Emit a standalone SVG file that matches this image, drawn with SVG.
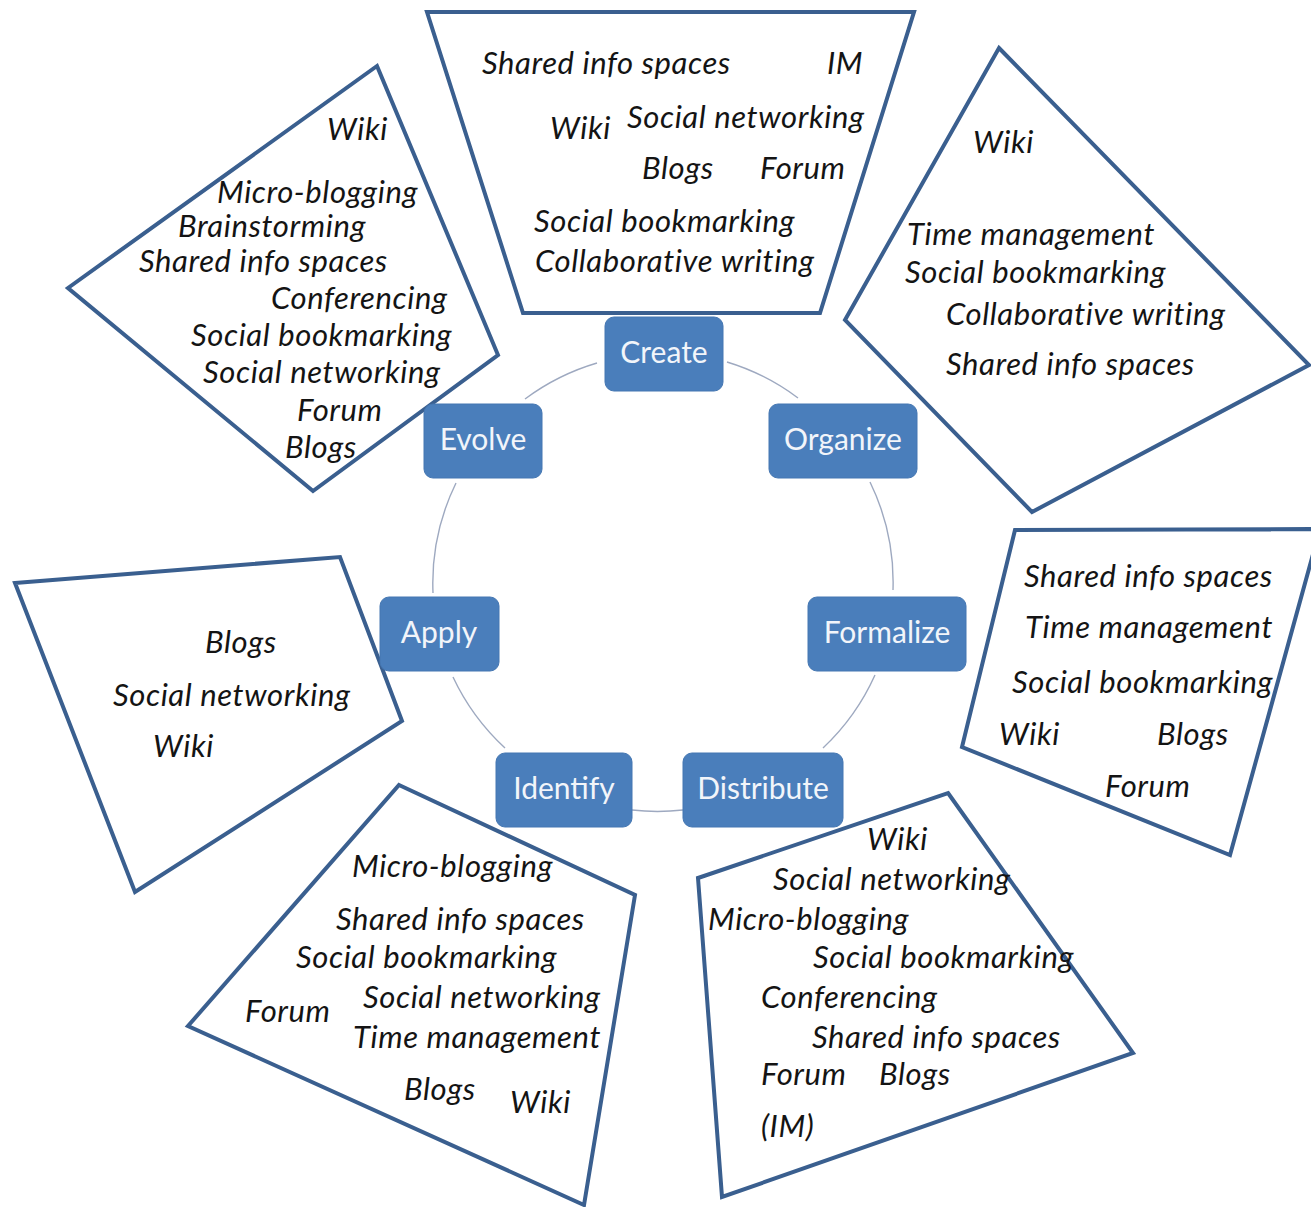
<svg xmlns="http://www.w3.org/2000/svg" width="1311" height="1207" viewBox="0 0 1311 1207">
<style>
.poly{fill:none;stroke:#3a5f8f;stroke-width:4;stroke-linejoin:miter}
.it{font-family:"Lato","Liberation Sans",sans-serif;font-style:italic;font-size:31px;letter-spacing:0.6px;fill:#141414}
.box{fill:#4a7ebb;stroke:#4577b2;stroke-width:1}
.lbl{font-family:"Lato","Liberation Sans",sans-serif;font-size:30px;fill:#f2f5fa;text-anchor:middle}
.arc{fill:none;stroke:#9ea9c0;stroke-width:1.4}
</style>
<rect width="1311" height="1207" fill="#ffffff"/>

<g id="tools-create">
<polygon class="poly" points="427,12 914,12 820,313 523,313"/>
<text class="it" x="482" y="74">Shared info spaces</text>
<text class="it" x="827" y="74">IM</text>
<text class="it" x="550" y="139">Wiki</text>
<text class="it" x="627" y="128">Social networking</text>
<text class="it" x="642" y="179">Blogs</text>
<text class="it" x="760" y="179">Forum</text>
<text class="it" x="534" y="232">Social bookmarking</text>
<text class="it" x="535" y="272">Collaborative writing</text>
</g>

<g id="tools-evolve">
<polygon class="poly" points="377,66 498,355 313,491 68,288"/>
<text class="it" x="327" y="140">Wiki</text>
<text class="it" x="217" y="203">Micro-blogging</text>
<text class="it" x="178" y="237">Brainstorming</text>
<text class="it" x="139" y="272">Shared info spaces</text>
<text class="it" x="271" y="309">Conferencing</text>
<text class="it" x="191" y="346">Social bookmarking</text>
<text class="it" x="203" y="383">Social networking</text>
<text class="it" x="297" y="421">Forum</text>
<text class="it" x="285" y="458">Blogs</text>
</g>

<g id="tools-organize">
<polygon class="poly" points="999,48 1309,365 1032,512 845,320"/>
<text class="it" x="973" y="153">Wiki</text>
<text class="it" x="907" y="245">Time management</text>
<text class="it" x="905" y="283">Social bookmarking</text>
<text class="it" x="946" y="325">Collaborative writing</text>
<text class="it" x="946" y="375">Shared info spaces</text>
</g>

<g id="tools-formalize">
<polygon class="poly" points="1015,530 1320,529 1230,855 962,747"/>
<text class="it" x="1024" y="587">Shared info spaces</text>
<text class="it" x="1025" y="638">Time management</text>
<text class="it" x="1012" y="693">Social bookmarking</text>
<text class="it" x="999" y="745">Wiki</text>
<text class="it" x="1157" y="745">Blogs</text>
<text class="it" x="1105" y="797">Forum</text>
</g>

<g id="tools-apply">
<polygon class="poly" points="15,583 340,557 402,721 135,892"/>
<text class="it" x="205" y="653">Blogs</text>
<text class="it" x="113" y="706">Social networking</text>
<text class="it" x="153" y="757">Wiki</text>
</g>

<g id="tools-identify">
<polygon class="poly" points="399,785 635,895 584,1205 188,1026"/>
<text class="it" x="352" y="877">Micro-blogging</text>
<text class="it" x="336" y="930">Shared info spaces</text>
<text class="it" x="296" y="968">Social bookmarking</text>
<text class="it" x="363" y="1008">Social networking</text>
<text class="it" x="245" y="1022">Forum</text>
<text class="it" x="353" y="1048">Time management</text>
<text class="it" x="404" y="1100">Blogs</text>
<text class="it" x="510" y="1113">Wiki</text>
</g>

<g id="tools-distribute">
<polygon class="poly" points="948,793 1133,1053 722,1197 698,878"/>
<text class="it" x="867" y="850">Wiki</text>
<text class="it" x="773" y="890">Social networking</text>
<text class="it" x="708" y="930">Micro-blogging</text>
<text class="it" x="813" y="968">Social bookmarking</text>
<text class="it" x="761" y="1008">Conferencing</text>
<text class="it" x="812" y="1048">Shared info spaces</text>
<text class="it" x="761" y="1085">Forum</text>
<text class="it" x="879" y="1085">Blogs</text>
<text class="it" x="761" y="1137">(IM)</text>
</g>

<g id="connectors">
<path class="arc" d="M727,362 A229,229 0 0 1 798,398"/>
<path class="arc" d="M870,482 A229,229 0 0 1 893,590"/>
<path class="arc" d="M875,675 A229,229 0 0 1 823,748"/>
<path class="arc" d="M683,810 A229,229 0 0 1 632,810"/>
<path class="arc" d="M505,748 A229,229 0 0 1 453,677"/>
<path class="arc" d="M433,593 A229,229 0 0 1 456,483"/>
<path class="arc" d="M525,399 A229,229 0 0 1 597,363"/>
</g>

<g id="node-create"><rect class="box" x="605" y="317" width="118" height="74" rx="9"/><text class="lbl" x="664" y="363">Create</text></g>
<g id="node-organize"><rect class="box" x="769" y="404" width="148" height="74" rx="9"/><text class="lbl" x="843" y="450">Organize</text></g>
<g id="node-formalize"><rect class="box" x="808" y="597" width="158" height="74" rx="9"/><text class="lbl" x="887" y="643">Formalize</text></g>
<g id="node-distribute"><rect class="box" x="683" y="753" width="160" height="74" rx="9"/><text class="lbl" x="763" y="799">Distribute</text></g>
<g id="node-identify"><rect class="box" x="496" y="753" width="136" height="74" rx="9"/><text class="lbl" x="564" y="799">Identify</text></g>
<g id="node-apply"><rect class="box" x="380" y="597" width="119" height="74" rx="9"/><text class="lbl" x="439" y="643">Apply</text></g>
<g id="node-evolve"><rect class="box" x="424" y="404" width="118" height="74" rx="9"/><text class="lbl" x="483" y="450">Evolve</text></g>
</svg>
